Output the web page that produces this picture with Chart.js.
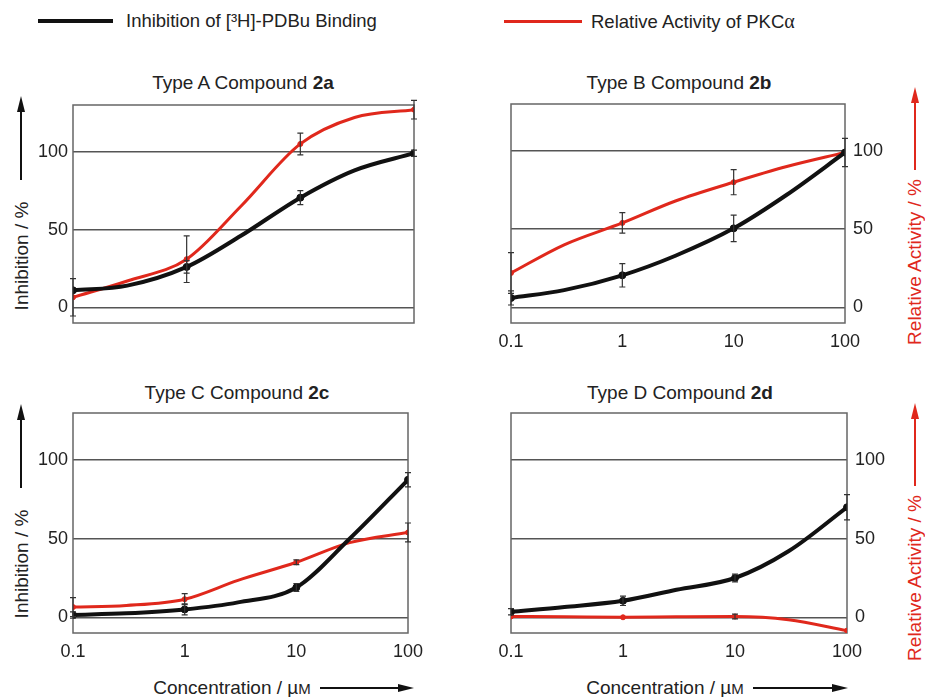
<!DOCTYPE html>
<html>
<head>
<meta charset="utf-8">
<script src="https://cdn.jsdelivr.net/npm/chart.js@4.4.1/dist/chart.umd.min.js"></script>
<style>
body { margin: 0; background: #fff; width: 925px; height: 697px; position: relative; overflow: hidden;
       font-family: "Liberation Sans", Arial, sans-serif; color: #222; }
canvas { position: absolute; }
.txt { position: absolute; white-space: nowrap; font-size: 19px; transform: translate(-50%, -50%); }
.leg { font-size: 18.5px; transform: translateY(-50%); }
.rot { transform: translate(-50%, -50%) rotate(-90deg); }
.red { color: #e0281c; }
.legline { position: absolute; }
.alpha { font-family: "Liberation Serif", serif; font-size: 20px; }
</style>
</head>
<body>

<!-- shared legend -->
<div class="legline" style="left:38px;top:19px;width:75px;height:4px;background:#111"></div>
<div class="txt leg" style="left:126px;top:21px">Inhibition of [³H]-PDBu Binding</div>
<div class="legline" style="left:504px;top:20px;width:78px;height:3px;background:#e0281c"></div>
<div class="txt leg" style="left:591px;top:21px">Relative Activity of PKC<span class="alpha">α</span></div>

<!-- panel titles -->
<div class="txt" style="left:243px;top:83px">Type A Compound <b>2a</b></div>
<div class="txt" style="left:679px;top:83px">Type B Compound <b>2b</b></div>
<div class="txt" style="left:237px;top:393px">Type C Compound <b>2c</b></div>
<div class="txt" style="left:680px;top:393px">Type D Compound <b>2d</b></div>

<!-- axis titles -->
<div class="txt rot" style="left:22px;top:256px">Inhibition / %</div>
<div class="txt rot" style="left:22px;top:564px">Inhibition / %</div>
<div class="txt rot red" style="left:915px;top:262px">Relative Activity / %</div>
<div class="txt rot red" style="left:915px;top:578px">Relative Activity / %</div>
<div class="txt" style="left:232px;top:688px">Concentration / µ<span style="font-size:15px">M</span></div>
<div class="txt" style="left:665px;top:688px">Concentration / µ<span style="font-size:15px">M</span></div>

<svg width="925" height="697" style="position:absolute;left:0;top:0;pointer-events:none">
  <g stroke="#111" stroke-width="2" fill="#111">
    <line x1="21" y1="180" x2="21" y2="108"/><polygon points="21,96 17,112 25,112" stroke="none"/>
    <line x1="21" y1="488" x2="21" y2="416"/><polygon points="21,404 17,420 25,420" stroke="none"/>
    <line x1="320" y1="688" x2="400" y2="688"/><polygon points="414,688 398,684 398,692" stroke="none"/>
    <line x1="753" y1="688" x2="834" y2="688"/><polygon points="848,688 832,684 832,692" stroke="none"/>
  </g>
  <g stroke="#e0281c" stroke-width="2" fill="#e0281c">
    <line x1="915" y1="170" x2="915" y2="100"/><polygon points="915,87 911,103 919,103" stroke="none"/>
    <line x1="915" y1="486" x2="915" y2="416"/><polygon points="915,403 911,419 919,419" stroke="none"/>
  </g>
</svg>

<canvas id="panelA" width="460" height="268" style="left:0;top:85px"></canvas>
<canvas id="panelB" width="465" height="269" style="left:460px;top:84px"></canvas>
<canvas id="panelC" width="460" height="270" style="left:0;top:393px"></canvas>
<canvas id="panelD" width="465" height="270" style="left:460px;top:393px"></canvas>

<script>
// measured concentrations (µM) and the ones the fitted curves are read at
const conc = [0.1, 1, 10, 100];
const fitConc = [0.1, 0.3, 1, 3, 10, 30, 100];
const xTicks = [0.1, 1, 10, 100];
const yTicks = [0, 50, 100];

// Type A, 2a
const inhibA = [11, 26, 70.5, 99];
const inhibAErr = [0, 4, 4.5, 2];
const activA = [6.5, 31, 105, 127];
const activAErr = [12, 15, 7, 6];
const inhibAFit = [11, 14, 26, 46, 70.5, 88, 99];
const activAFit = [6.5, 17, 31, 65, 105, 122, 127];

// Type B, 2b
const inhibB = [6, 20.5, 50.5, 99];
const inhibBErr = [4.5, 7.5, 8.5, 9];
const activB = [22, 54, 80, 99];
const activBErr = [13, 6.5, 8, 0];
const inhibBFit = [6, 11, 20.5, 33, 50.5, 72, 99];
const activBFit = [22, 40, 54, 68, 80, 90, 99];

// Type C, 2c
const inhibC = [1.5, 5, 19, 87.5];
const inhibCErr = [2, 3.5, 2.5, 4.5];
const activC = [6.5, 11.5, 35, 54];
const activCErr = [6, 3.5, 1.5, 6];
const inhibCFit = [1.5, 2.5, 5, 9.5, 19, 50, 87.5];
const activCFit = [6.5, 7.5, 11.5, 23.5, 35, 47.5, 54];

// Type D, 2d
const inhibD = [3.5, 10.5, 25, 70];
const inhibDErr = [2, 3, 2.5, 8];
const activD = [0.5, 0, 0.5, -8.5];
const activDErr = [0, 0, 1.5, 0];
const inhibDFit = [3.5, 6.5, 10.5, 17.5, 25, 42, 70];
const activDFit = [0.5, 0.3, 0, 0.3, 0.5, -1.5, -8.5];

const BLACK = "#111";
const RED = "#e0281c";
const tickFont = { family: "Liberation Sans", size: 18 };

function toPts(xs, ys) {
    return xs.map((x, i) => ({ x: x, y: ys[i] }));
}

// frame round the plot area
const boxPlugin = {
    id: "box",
    beforeDatasetsDraw(chart) {
        const a = chart.chartArea;
        const ctx = chart.ctx;
        ctx.save();
        ctx.strokeStyle = "#666";
        ctx.lineWidth = 1.5;
        ctx.strokeRect(a.left, a.top, a.right - a.left, a.bottom - a.top);
        ctx.restore();
    }
};

// vertical error bars for datasets that carry an "errors" array
const errorPlugin = {
    id: "errors",
    afterDatasetsDraw(chart) {
        const ctx = chart.ctx;
        const x = chart.scales.x, y = chart.scales.y;
        ctx.save();
        ctx.strokeStyle = "#333";
        ctx.lineWidth = 1.2;
        chart.data.datasets.forEach(ds => {
            if (!ds.errors) return;
            ds.data.forEach((p, j) => {
                const e = ds.errors[j];
                if (!e) return;
                const px = x.getPixelForValue(p.x);
                const top = y.getPixelForValue(p.y + e);
                const bot = y.getPixelForValue(p.y - e);
                ctx.beginPath();
                ctx.moveTo(px, top); ctx.lineTo(px, bot);
                ctx.moveTo(px - 3, top); ctx.lineTo(px + 3, top);
                ctx.moveTo(px - 3, bot); ctx.lineTo(px + 3, bot);
                ctx.stroke();
            });
        });
        ctx.restore();
    }
};

function makePanel(id, p) {
    return new Chart(document.getElementById(id), {
        type: "line",
        data: {
            datasets: [
                { data: toPts(conc, p.inhib), type: "scatter", errors: p.inhibErr,
                  pointRadius: 3.5, backgroundColor: BLACK, borderColor: BLACK },
                { data: toPts(conc, p.activ), type: "scatter", errors: p.activErr,
                  pointRadius: 2.5, backgroundColor: RED, borderColor: RED },
                { data: toPts(fitConc, p.inhibFit), borderColor: BLACK, borderWidth: 4,
                  pointRadius: 0, cubicInterpolationMode: "monotone", fill: false },
                { data: toPts(fitConc, p.activFit), borderColor: RED, borderWidth: 3,
                  pointRadius: 0, cubicInterpolationMode: "monotone", fill: false }
            ]
        },
        options: {
            responsive: false,
            animation: false,
            layout: { padding: p.padding },
            plugins: { legend: { display: false }, tooltip: { enabled: false } },
            scales: {
                x: {
                    type: "logarithmic", min: 0.1, max: 100,
                    grid: { display: false, drawTicks: false },
                    border: { display: false },
                    afterBuildTicks: s => { s.ticks = xTicks.map(v => ({ value: v })); },
                    afterFit: s => { s.height = 30; },
                    ticks: { display: p.showX, padding: 8, font: tickFont, color: "#222",
                             maxRotation: 0, autoSkip: false, callback: v => String(v) }
                },
                y: {
                    position: p.side, min: -10, max: 130,
                    grid: { color: "#555", lineWidth: 1.5, drawTicks: false },
                    border: { display: false },
                    afterBuildTicks: s => { s.ticks = yTicks.map(v => ({ value: v })); },
                    afterFit: s => { s.width = p.axisWidth; },
                    ticks: { padding: p.side === "left" ? 5 : 8, font: tickFont, color: "#222" }
                }
            }
        },
        plugins: [boxPlugin, errorPlugin]
    });
}

makePanel("panelA", {
    inhib: inhibA, inhibErr: inhibAErr, activ: activA, activErr: activAErr,
    inhibFit: inhibAFit, activFit: activAFit,
    side: "left", axisWidth: 73, showX: false,
    padding: { top: 20, left: 0, right: 46, bottom: 0 }
});
makePanel("panelB", {
    inhib: inhibB, inhibErr: inhibBErr, activ: activB, activErr: activBErr,
    inhibFit: inhibBFit, activFit: activBFit,
    side: "right", axisWidth: 80, showX: true,
    padding: { top: 20, left: 51, right: 0, bottom: 0 }
});
makePanel("panelC", {
    inhib: inhibC, inhibErr: inhibCErr, activ: activC, activErr: activCErr,
    inhibFit: inhibCFit, activFit: activCFit,
    side: "left", axisWidth: 73, showX: true,
    padding: { top: 20, left: 0, right: 52, bottom: 0 }
});
makePanel("panelD", {
    inhib: inhibD, inhibErr: inhibDErr, activ: activD, activErr: activDErr,
    inhibFit: inhibDFit, activFit: activDFit,
    side: "right", axisWidth: 78, showX: true,
    padding: { top: 20, left: 51, right: 0, bottom: 0 }
});
</script>
</body>
</html>
